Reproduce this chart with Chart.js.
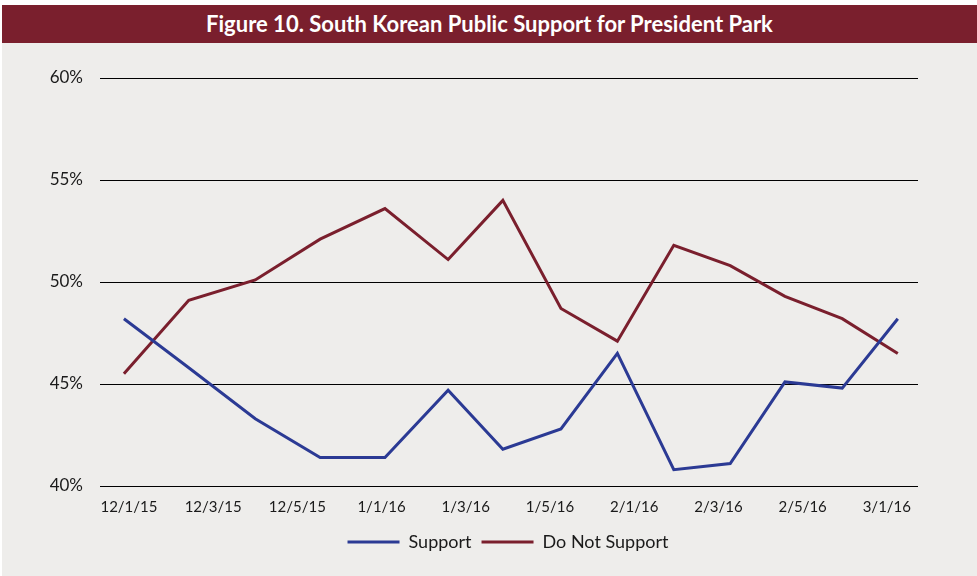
<!DOCTYPE html>
<html>
<head>
<meta charset="utf-8">
<script src="https://cdn.jsdelivr.net/npm/chart.js@4.4.1/dist/chart.umd.min.js"></script>
<style>
  html, body { margin: 0; padding: 0; background: #fff; }
  #wrap { position: relative; width: 977px; height: 576px; overflow: hidden; }
  #bg { position: absolute; left: 2px; top: 5px; right: 0; bottom: 0; background: #eeedeb; }
  #title {
    position: absolute; left: 2px; top: 5px; right: 0; height: 38px;
    background: #7a1f2d; color: #fff;
    font: bold 22px Lato, "Open Sans", sans-serif;
    text-align: center; line-height: 38px;
  }
  #chartBox { position: absolute; left: 0; top: 43px; width: 977px; height: 533px; }
</style>
</head>
<body>
<div id="wrap">
  <div id="bg"></div>
  <div id="title">Figure 10. South Korean Public Support for President Park</div>
  <div id="chartBox"><canvas id="chart"></canvas></div>
</div>
<script>
// x positions of each poll, in units of tick-label spacing (label i sits at i)
const xPos = [-0.06, 0.71, 1.50, 2.27, 3.04, 3.79, 4.44, 5.13, 5.80, 6.47, 7.14, 7.79, 8.47, 9.13];
const tickLabels = ["12/1/15", "12/3/15", "12/5/15", "1/1/16", "1/3/16", "1/5/16", "2/1/16", "2/3/16", "2/5/16", "3/1/16"];
const support = [48.2, 45.8, 43.3, 41.4, 41.4, 44.7, 41.8, 42.8, 46.5, 40.8, 41.1, 45.1, 44.8, 48.2];
const doNotSupport = [45.5, 49.1, 50.1, 52.1, 53.6, 51.1, 54.0, 48.7, 47.1, 51.8, 50.8, 49.3, 48.2, 46.5];

const toPoints = (ys) => ys.map((y, i) => ({ x: xPos[i], y: y }));

// nudge the legend right so it sits under the plot area, not the whole canvas
const legendShift = {
  id: "legendShift",
  afterLayout(chart) {
    chart.legend.left += 49;
    chart.legend.right += 49;
  },
};

const ctx = document.getElementById("chart").getContext("2d");
new Chart(ctx, {
  type: "line",
  data: {
    datasets: [
      {
        label: "Support",
        data: toPoints(support),
        borderColor: "#2b3a94",
        backgroundColor: "#2b3a94",
        borderWidth: 3,
        pointRadius: 0,
        tension: 0,
      },
      {
        label: "Do Not Support",
        data: toPoints(doNotSupport),
        borderColor: "#7a1f2d",
        backgroundColor: "#7a1f2d",
        borderWidth: 3,
        pointRadius: 0,
        tension: 0,
      },
    ],
  },
  plugins: [legendShift],
  options: {
    responsive: true,
    maintainAspectRatio: false,
    animation: false,
    layout: { padding: { left: 0, right: 59, top: 35, bottom: 15 } },
    plugins: {
      tooltip: { enabled: false },
      legend: {
        position: "bottom",
        labels: {
          usePointStyle: true,
          pointStyle: "line",
          pointStyleWidth: 52,
          color: "#1a1a1a",
          font: { family: "Lato, 'Open Sans', sans-serif", size: 18 },
          padding: 10,
        },
      },
    },
    scales: {
      x: {
        type: "linear",
        min: -0.344,
        max: 9.37,
        grid: { display: false, drawTicks: false },
        border: { display: false },
        afterBuildTicks: (s) => { s.ticks = tickLabels.map((_, i) => ({ value: i })); },
        afterFit: (s) => { s.height = 37; },
        ticks: {
          callback: (v) => tickLabels[v],
          color: "#1a1a1a",
          font: { family: "Lato, 'Open Sans', sans-serif", size: 15 },
          maxRotation: 0,
          autoSkip: false,
          padding: 12,
        },
      },
      y: {
        min: 40,
        max: 60,
        border: { display: false },
        grid: { color: "#000", lineWidth: 1, drawTicks: false },
        afterFit: (s) => { s.width = 100; },
        ticks: {
          stepSize: 5,
          callback: (v) => v + "%",
          color: "#1a1a1a",
          font: { family: "Lato, 'Open Sans', sans-serif", size: 17 },
          padding: 17,
        },
      },
    },
  },
});
</script>
</body>
</html>
